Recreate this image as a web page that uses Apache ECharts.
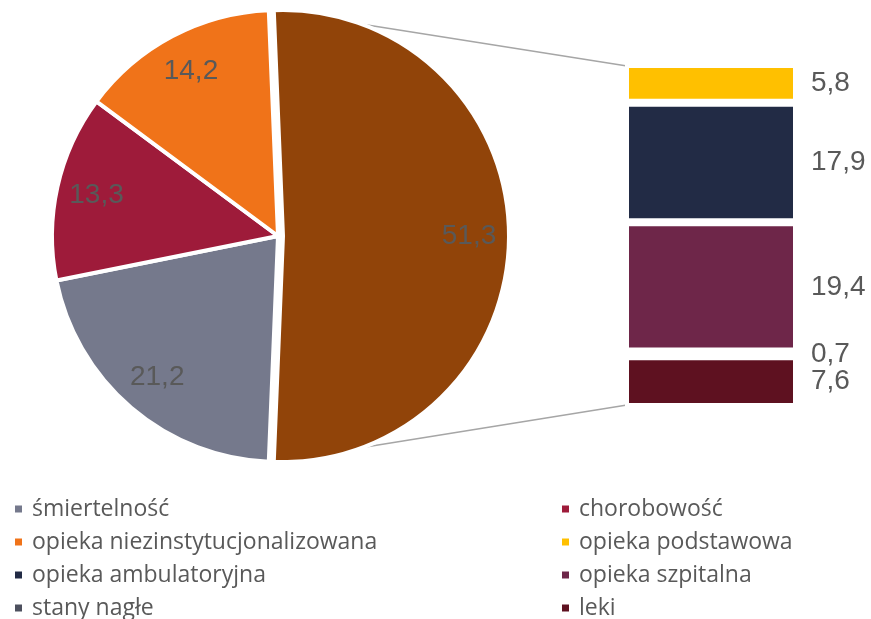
<!DOCTYPE html>
<html>
<head>
<meta charset="utf-8">
<script src="https://cdn.jsdelivr.net/npm/echarts@6/dist/echarts.min.js"></script>
<style>html,body{margin:0;padding:0;background:#fff}#c{width:871px;height:619px}</style>
</head>
<body>
<div id="c"></div>
<script>
// ---- data ----
var pieNames = ['pozostałe', 'śmiertelność', 'chorobowość', 'opieka niezinstytucjonalizowana'];
var pieValues = [51.3, 21.2, 13.3, 14.2];
var barNames = ['leki', 'stany nagłe', 'opieka szpitalna', 'opieka ambulatoryjna', 'opieka podstawowa'];
var barValues = [7.6, 0.7, 19.4, 17.9, 5.8];
var legendLeft = ['śmiertelność', 'opieka niezinstytucjonalizowana', 'opieka ambulatoryjna', 'stany nagłe'];
var legendRight = ['chorobowość', 'opieka podstawowa', 'opieka szpitalna', 'leki'];

// ---- styles ----
var pieColors = ['#914409', '#75798C', '#9E1B3A', '#F07319'];
var barColors = ['#5E1120', '#4D505E', '#6E2649', '#222B45', '#FFC000'];
var labelColor = '#595959';
var valueFont = 28;

// ---- layout ----
var cx = 278, cy = 236, R = 226, explode = 5;
var gLeft = 625, gTop = 64, gWidth = 172, gHeight = 343;
var legendTop = 492.5, legendRowStep = 33;

var pieTotal = pieValues.reduce(function (a, b) { return a + b; }, 0);
var barTotal = barValues.reduce(function (a, b) { return a + b; }, 0);
// first slice centred on the right (0 deg)
var startAngle = (pieValues[0] / pieTotal) * 360 / 2;

function fmt(v) { return String(v).replace('.', ','); }

var pieData = pieValues.map(function (v, i) {
  return { name: pieNames[i], value: v, selected: i === 0, itemStyle: { color: pieColors[i] } };
});
var labelData = pieValues.map(function (v, i) {
  return { name: '_' + pieNames[i], value: v, selected: i === 0 };
});

var barSeries = barValues.map(function (v, i) {
  return {
    type: 'bar', name: barNames[i], stack: 'other', data: [v],
    xAxisIndex: 0, yAxisIndex: 0,
    barCategoryGap: '0%', barWidth: '100%',
    itemStyle: { color: barColors[i], borderColor: '#fff', borderWidth: 4 },
    label: {
      show: true, position: 'right', distance: 14,
      color: labelColor, fontSize: valueFont, fontFamily: 'Liberation Sans, Arial, sans-serif',
      formatter: function (p) { return fmt(p.value); }
    },
    emphasis: { disabled: true }, silent: true
  };
});

// connector lines from the exploded slice edges to the bar corners
var bcx = cx + explode, bcy = cy;
var a0 = startAngle * Math.PI / 180;
var a1 = (startAngle - pieValues[0] / pieTotal * 360) * Math.PI / 180;
var p0 = [bcx + R * Math.cos(a0), bcy - R * Math.sin(a0)];
var p1 = [bcx + R * Math.cos(a1), bcy - R * Math.sin(a1)];
var barTopLeft = [gLeft + 2, gTop + 2];
var barBotLeft = [gLeft + 2, gTop + gHeight - 2];

function makeLegend(name, left, row) {
  return {
    orient: 'vertical', icon: 'rect', itemWidth: 9, itemHeight: 9,
    selectedMode: false, left: left, top: legendTop + row * legendRowStep,
    data: [name],
    textStyle: { fontSize: 23, lineHeight: 22, color: labelColor, fontFamily: 'Open Sans, sans-serif', padding: [0, 0, 0, 4] }
  };
}
var legends = [];
legendLeft.forEach(function (n, i) { legends.push(makeLegend(n, 8, i)); });
legendRight.forEach(function (n, i) { legends.push(makeLegend(n, 555, i)); });

var option = {
  animation: false,
  backgroundColor: '#fff',
  legend: legends,
  grid: { left: gLeft, top: gTop, width: gWidth, height: gHeight },
  xAxis: { type: 'category', data: [''], show: false },
  yAxis: { type: 'value', min: 0, max: barTotal, show: false },
  graphic: [
    { type: 'line', z: 0, shape: { x1: p0[0], y1: p0[1], x2: barTopLeft[0], y2: barTopLeft[1] }, style: { stroke: '#A6A6A6', lineWidth: 1.5 } },
    { type: 'line', z: 0, shape: { x1: p1[0], y1: p1[1], x2: barBotLeft[0], y2: barBotLeft[1] }, style: { stroke: '#A6A6A6', lineWidth: 1.5 } }
  ],
  series: [
    {
      type: 'pie', name: 'main', center: [cx, cy], radius: [0, R],
      startAngle: startAngle, clockwise: true,
      selectedMode: 'single', selectedOffset: explode,
      avoidLabelOverlap: false,
      itemStyle: { borderColor: '#fff', borderWidth: 4 },
      label: { show: false }, labelLine: { show: false },
      emphasis: { disabled: true }, silent: true,
      data: pieData, z: 2
    },
    {
      type: 'pie', name: 'labels', center: [cx, cy], radius: [140, R],
      startAngle: startAngle, clockwise: true,
      selectedMode: 'single', selectedOffset: explode,
      avoidLabelOverlap: false,
      itemStyle: { color: 'rgba(0,0,0,0)' },
      label: {
        show: true, position: 'inside', color: labelColor, fontSize: valueFont,
        fontFamily: 'Liberation Sans, Arial, sans-serif',
        formatter: function (p) { return fmt(p.value); }
      },
      labelLine: { show: false },
      emphasis: { disabled: true }, silent: true,
      data: labelData, z: 3
    }
  ].concat(barSeries)
};

var chart = echarts.init(document.getElementById('c'), null, { renderer: 'canvas' });
chart.setOption(option);
</script>
</body>
</html>
